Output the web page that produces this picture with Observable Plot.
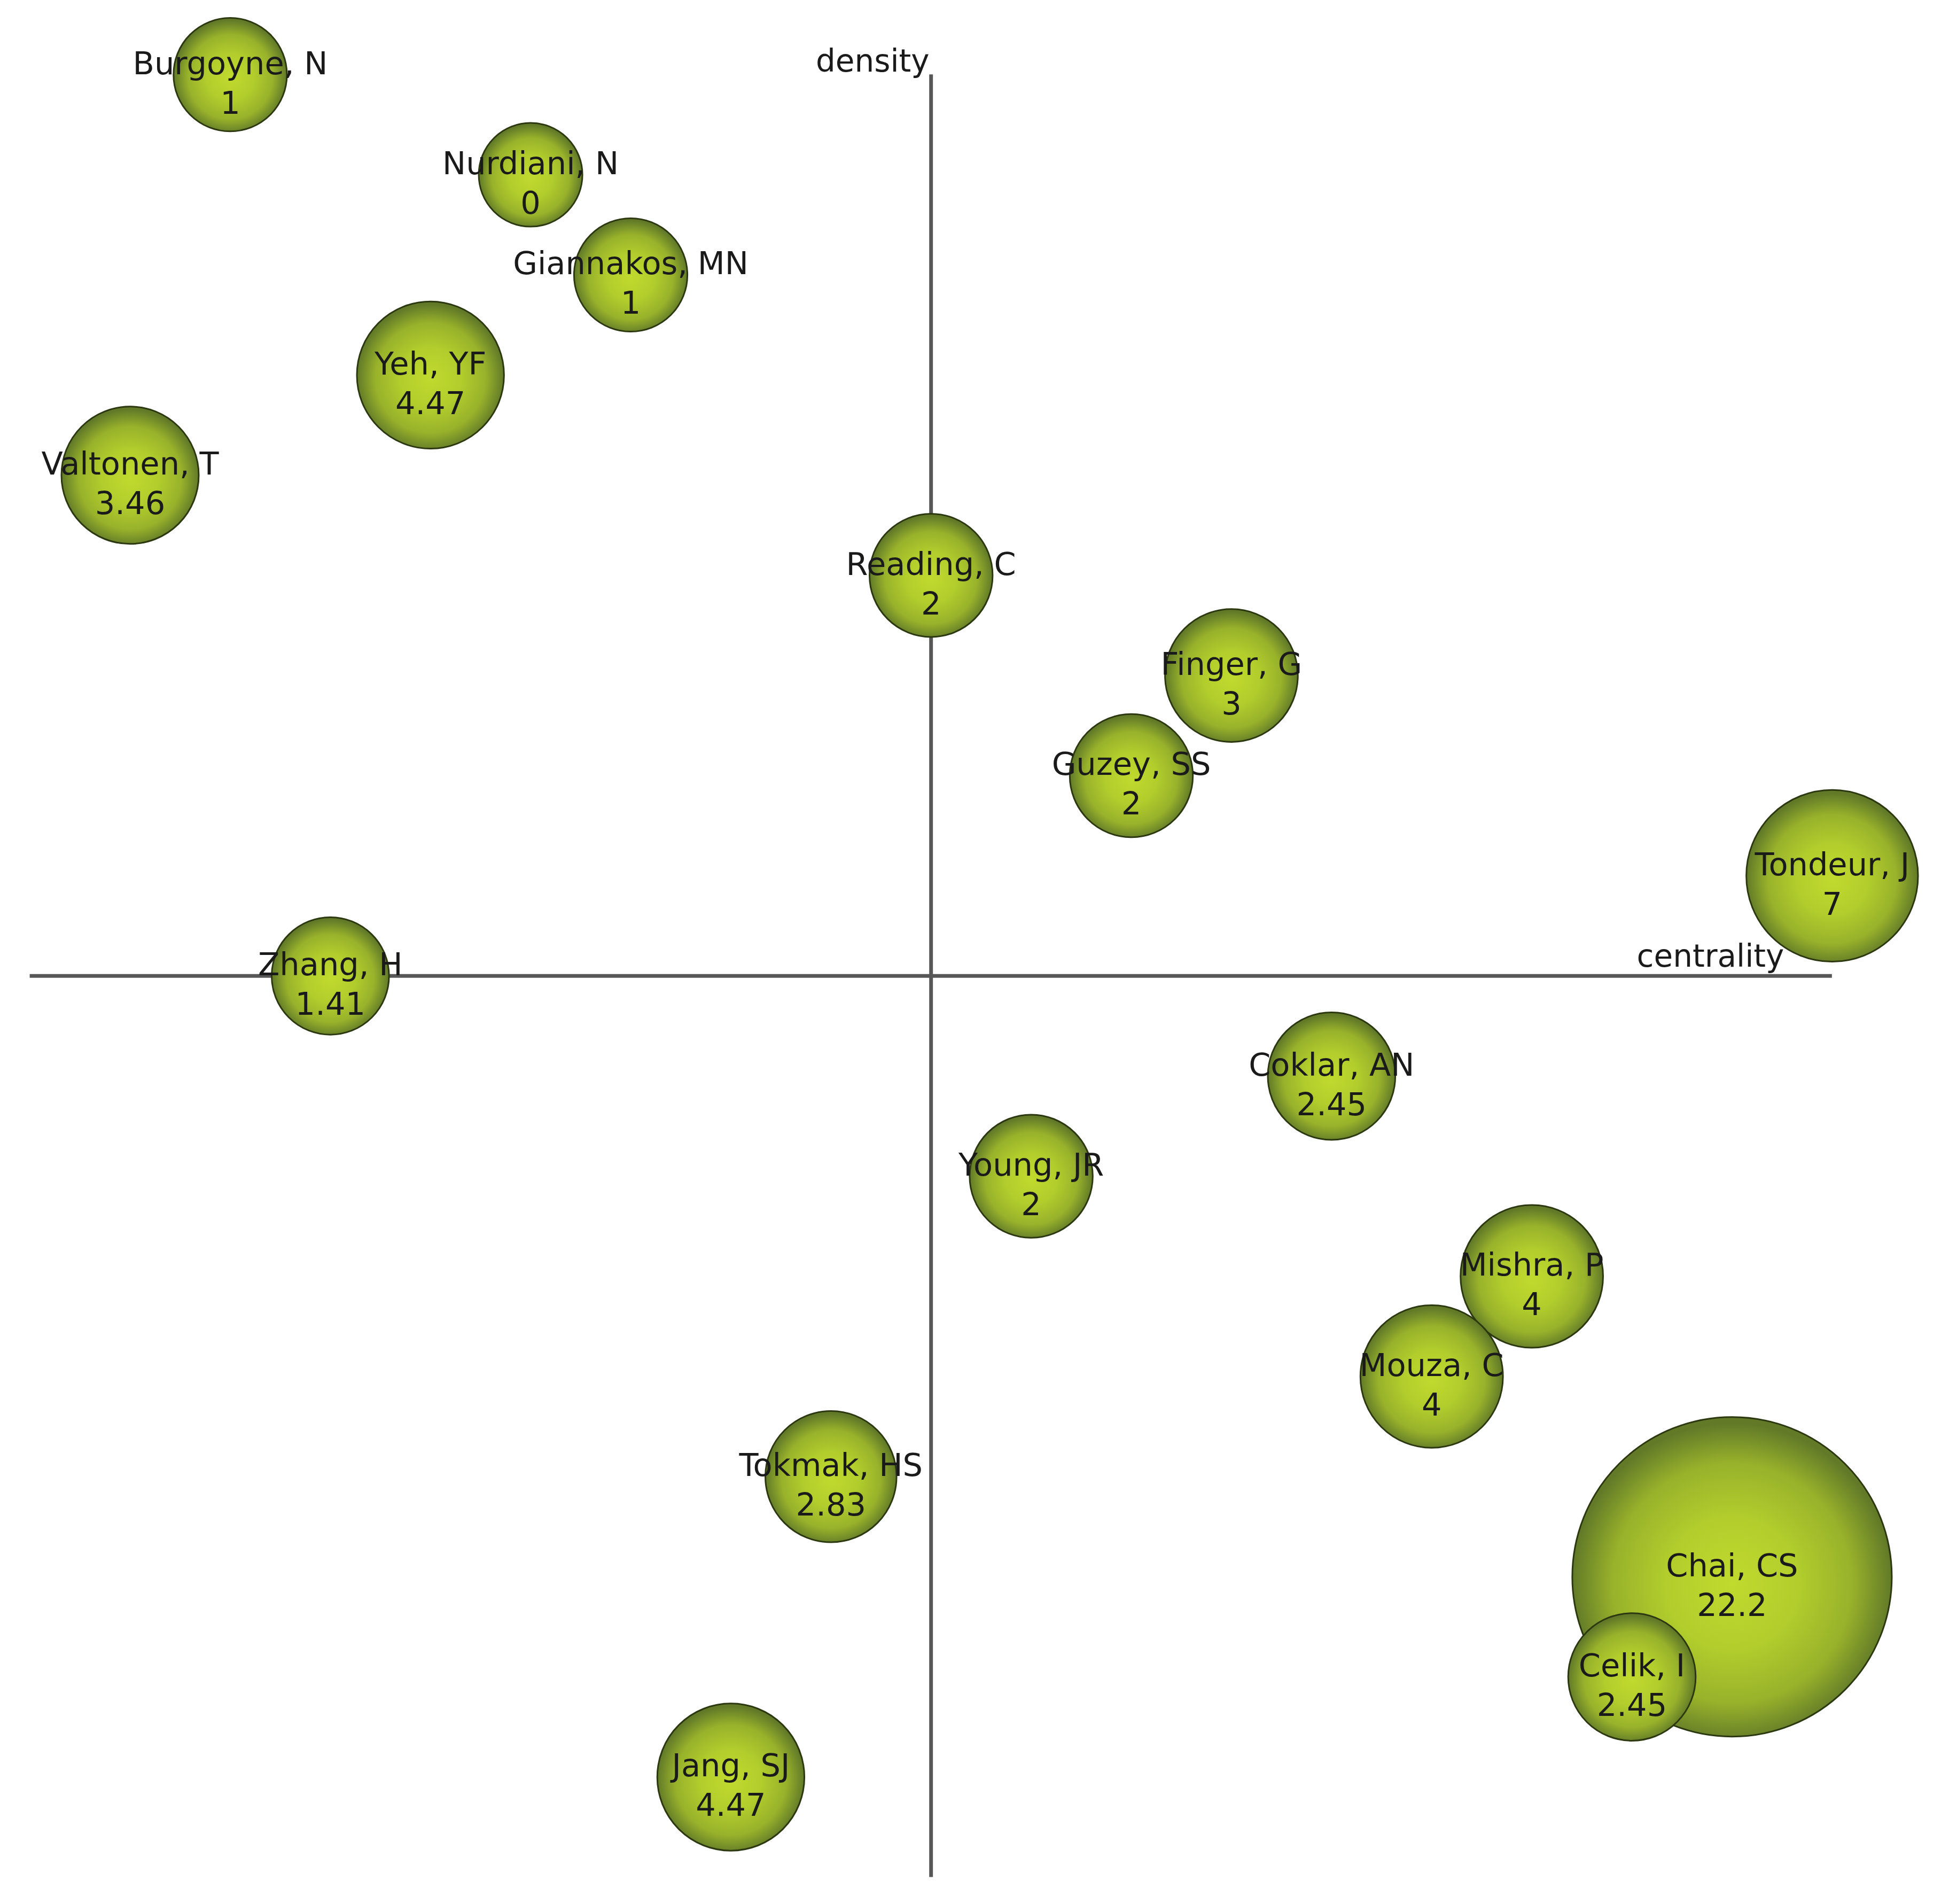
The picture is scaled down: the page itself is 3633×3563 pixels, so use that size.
<!DOCTYPE html>
<html>
<head>
<meta charset="utf-8">
<script src="https://cdn.jsdelivr.net/npm/d3@7"></script>
<script src="https://cdn.jsdelivr.net/npm/@observablehq/plot@0.6"></script>
<style>
  html, body { margin: 0; padding: 0; background: #ffffff; }
  #chart svg { display: block; }
</style>
</head>
<body>
<div id="chart"></div>
<script>
// Author labels, listed top to bottom (later ones are drawn on top)
const authors = ["Burgoyne, N", "Nurdiani, N", "Giannakos, MN", "Yeh, YF", "Valtonen, T",
  "Reading, C", "Finger, G", "Guzey, SS", "Tondeur, J", "Zhang, H", "Coklar, AN",
  "Young, JR", "Mishra, P", "Mouza, C", "Tokmak, HS", "Chai, CS", "Celik, I", "Jang, SJ"];
// Centrality rank (horizontal position)
const centralityRank = [2, 5, 6, 4, 1, 9, 12, 11, 18, 3, 13, 10, 15, 14, 8, 17, 16, 7];
// Density rank (vertical position)
const densityRank = [18, 17, 16, 15, 14, 13, 12, 11, 10, 9, 8, 7, 6, 5, 4, 3, 2, 1];
// Value shown in each bubble (drives bubble size)
const sizeValues = [1, 0, 1, 4.47, 3.46, 2, 3, 2, 7, 1.41, 2.45, 2, 4, 4, 2.83, 22.2, 2.45, 4.47];
const sizeLabels = ["1", "0", "1", "4.47", "3.46", "2", "3", "2", "7", "1.41", "2.45", "2", "4", "4", "2.83", "22.2", "2.45", "4.47"];

const data = authors.map((a, i) => ({
  author: a, cx: centralityRank[i], dy: densityRank[i], size: sizeValues[i], label: sizeLabels[i]
}));

const W = 3633, H = 3563;
const font = "DejaVu Sans, Verdana, sans-serif";

const plot = Plot.plot({
  width: W,
  height: H,
  margin: 0,
  style: { background: "#ffffff", fontFamily: font },
  x: { domain: [0, 18], range: [55.6, 3428.8], axis: null },
  y: { domain: [0, 18], range: [3512.4, 139.2], axis: null },
  r: { type: "linear", domain: [0, 22.2], range: [97, 299] },
  marks: [
    Plot.ruleX([9], { y1: 0, y2: 18, stroke: "#575757", strokeWidth: 7 }),
    Plot.ruleY([9], { x1: 0, x2: 18, stroke: "#575757", strokeWidth: 7 }),
    Plot.text(["density"], { x: 9, y: 18, text: d => d, textAnchor: "end", dx: -3, dy: -24, fontSize: 58, fill: "#1a1a1a", fontFamily: font }),
    Plot.text(["centrality"], { x: 17.52, y: 9, text: d => d, textAnchor: "end", dy: -36, fontSize: 58, fill: "#1a1a1a", fontFamily: font }),
    Plot.dot(data, { x: "cx", y: "dy", r: "size", fill: "url(#bubbleGrad)", stroke: "#2c3810", strokeWidth: 3 }),
    Plot.text(data, { x: "cx", y: "dy", text: "author", dy: -20, fontSize: 59, fill: "#1a1a1a", fontFamily: font }),
    Plot.text(data, { x: "cx", y: "dy", text: "label", dy: 54, fontSize: 59, fill: "#1a1a1a", fontFamily: font })
  ]
});

const svg = d3.select(plot);
const defs = svg.insert("defs", ":first-child");
const grad = defs.append("radialGradient")
  .attr("id", "bubbleGrad").attr("cx", "50%").attr("cy", "52%").attr("r", "50%");
grad.append("stop").attr("offset", "0%").attr("stop-color", "#c0da2e");
grad.append("stop").attr("offset", "40%").attr("stop-color", "#b3ce2c");
grad.append("stop").attr("offset", "75%").attr("stop-color", "#98b22b");
grad.append("stop").attr("offset", "100%").attr("stop-color", "#627a28");

document.getElementById("chart").appendChild(plot);
</script>
</body>
</html>
